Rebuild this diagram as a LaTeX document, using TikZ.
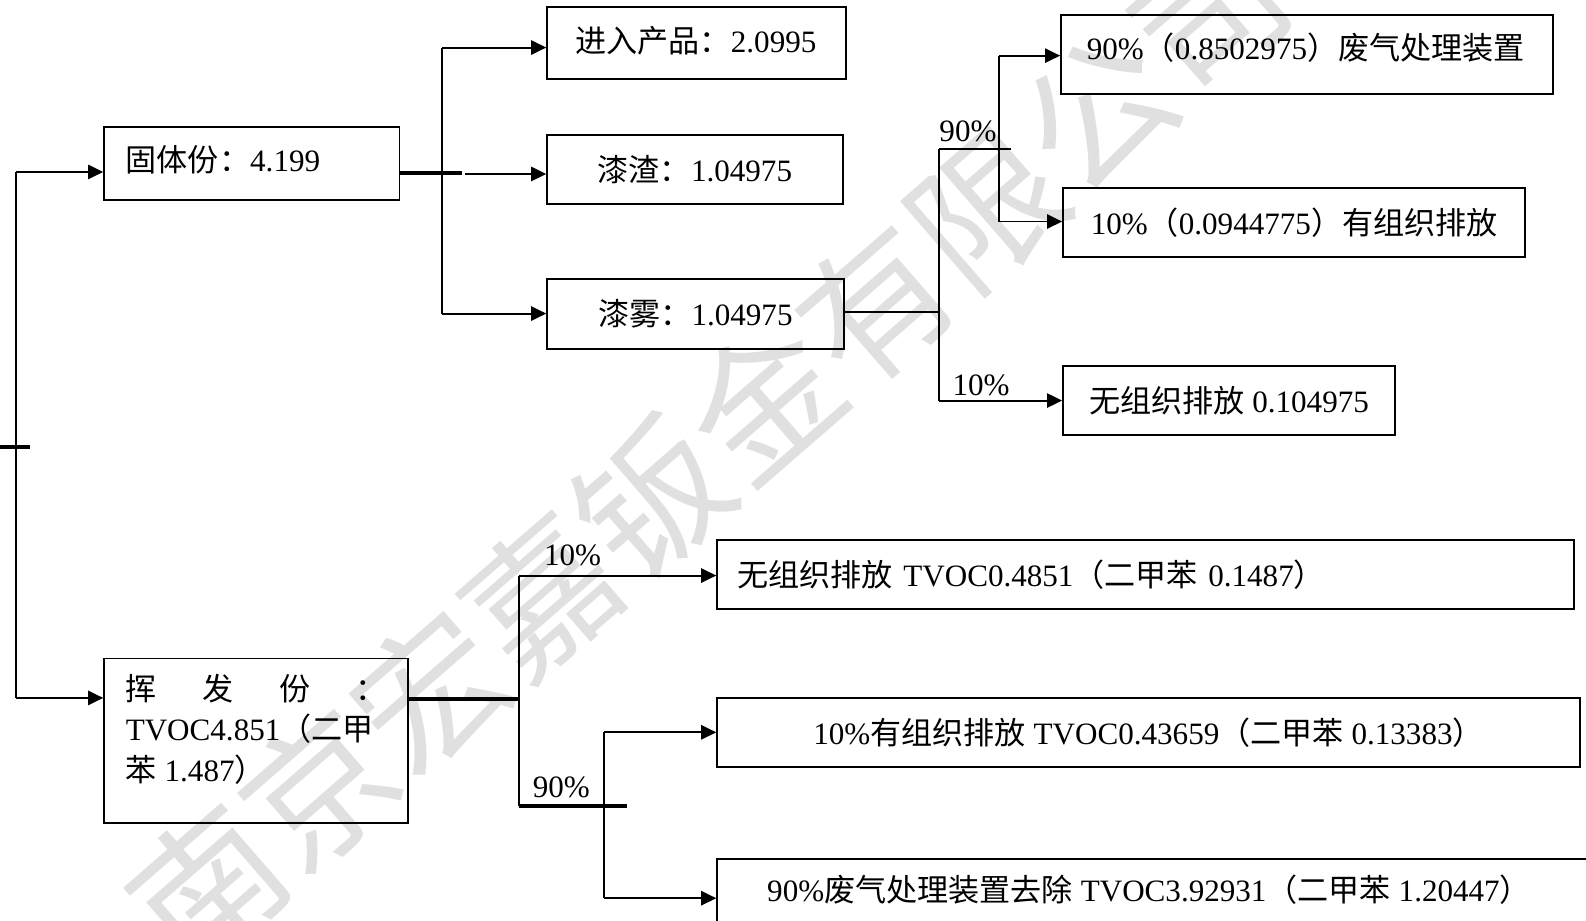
\documentclass[tikz,border=0pt]{standalone}
\usepackage{fontspec}
\setmainfont{Liberation Serif}
\newfontfamily\cjk{Noto Sans CJK SC}
\newcommand\zh[1]{{\cjk #1}}
\usetikzlibrary{arrows.meta}
\begin{document}
\begin{tikzpicture}[x=0.02cm,y=-0.02cm,
  txt/.style={font=\fontsize{17.5}{21}\selectfont},
  box/.style={draw, line width=1.1pt, inner sep=0pt, txt},
  arr/.style={line width=1.1pt, -{Triangle[length=8.5pt,width=8pt]}},
  ln/.style={line width=1.1pt},
  thk/.style={line width=2.4pt},
  pct/.style={txt, inner sep=0pt}]
\useasboundingbox (0,0) rectangle (1568,910);
\clip (0,0) rectangle (1568,910);
% watermark
\node[text=black!12, font=\cjk\fontsize{83}{83}\selectfont, rotate=41, inner sep=0pt] (wm) at (700,445) {南京宏嘉钣金有限公司};
% boxes
\node[box, minimum width=292*0.569pt, minimum height=72*0.569pt] (gt) at (249,162) {};
\node[pct, anchor=west] (gtt) at (124,158) {\zh{固体份：}4.199};
\node[box, minimum width=300*0.569pt, minimum height=163*0.569pt] (hf) at (253,732.5) {};
\node[pct, anchor=north west, align=left, font=\fontsize{17.5}{22.8}\selectfont] (hft) at (124,666)
  {\makebox[147pt][l]{\zh{挥}\hfill\zh{发}\hfill\zh{份}\hfill\zh{：}}\\TVOC4.851\zh{（二甲}\\\zh{苯} 1.487\zh{）}};
\node[box, minimum width=295*0.569pt, minimum height=71*0.569pt] (jr) at (688.5,42.5) {};
\node[pct] (jrt) at (688,40) {\zh{进入产品：}2.0995};
\node[box, minimum width=292*0.569pt, minimum height=69*0.569pt] (qz) at (687,167.5) {\zh{漆渣：}1.04975};
\node[box, minimum width=293*0.569pt, minimum height=69*0.569pt] (qw) at (687.5,310.5) {\zh{漆雾：}1.04975};
\node[box, minimum width=486*0.569pt, minimum height=78*0.569pt] (b1) at (1292,54) {};
\node[pct] (b1t) at (1291,47) {90\%\zh{（}0.8502975\zh{）废气处理装置}};
\node[box, minimum width=457*0.569pt, minimum height=68*0.569pt] (b2) at (1279.5,220) {10\%\zh{（}0.0944775\zh{）有组织排放}};
\node[box, minimum width=328*0.569pt, minimum height=68*0.569pt] (b3) at (1215,396) {\zh{无组织排放} 0.104975};
\node[box, minimum width=847*0.569pt, minimum height=68*0.569pt, text width=807*0.569pt, align=left] (b4) at (1132.5,568) {\zh{无组织排放} TVOC0.4851\zh{（二甲苯} 0.1487\zh{）}};
\node[box, minimum width=853*0.569pt, minimum height=68*0.569pt] (b5) at (1135.5,724) {10\%\zh{有组织排放} TVOC0.43659\zh{（二甲苯} 0.13383\zh{）}};
\node[box, minimum width=891*0.569pt, minimum height=91*0.569pt] (b6) at (1154.5,894.5) {};
\node[pct] (b6t) at (1136,880) {90\%\zh{废气处理装置去除} TVOC3.92931\zh{（二甲苯} 1.20447\zh{）}};
% left bus
\coordinate (L1) at (16,170); \coordinate (L2) at (16,690);
\draw[ln] (L1) -- (L2);
\draw[arr] (L1) -- (L1 -| gt.west);
\draw[arr] (L2) -- (L2 -| hf.west);
\coordinate (tk1) at (0,442); \coordinate (tk2) at (30,442);
\draw[thk] (tk1) -- (tk2);
% solid part
\coordinate (ga) at (457,171);
\draw[thk] (gt.east |- ga) -- (ga);
\coordinate (gb) at (460,172);
\draw[arr] (gb) -- (gb -| qz.west);
\coordinate (gv1) at (437,47); \coordinate (gv2) at (437,310);
\draw[ln] (gv1) -- (gv2);
\draw[arr] (gv1) -- (gv1 -| jr.west);
\draw[arr] (gv2) -- (gv2 -| qw.west);
% paint mist
\coordinate (qa) at (928,308);
\draw[ln] (qw.east |- qa) -- (qa);
\coordinate (qv1) at (928,147); \coordinate (qv2) at (928,396);
\draw[ln] (qv1) -- (qv2);
\coordinate (qh) at (1000,147);
\draw[ln] (qv1) -- (qh);
\coordinate (rv1) at (988,55); \coordinate (rv2) at (988,219);
\draw[ln] (rv1) -- (rv2);
\draw[arr] (rv1) -- (rv1 -| b1.west);
\draw[arr] (rv2) -- (rv2 -| b2.west);
\draw[arr] (qv2) -- (qv2 -| b3.west);
\node[pct] (p90a) at (957,130) {90\%};
\node[pct] (p10a) at (970,381) {10\%};
% volatile part
\coordinate (ha) at (513,691);
\draw[thk] (hf.east |- ha) -- (ha);
\coordinate (hv1) at (513,569); \coordinate (hv2) at (513,797);
\draw[ln] (hv1) -- (hv2);
\draw[arr] (hv1) -- (hv1 -| b4.west);
\coordinate (hh) at (620,797);
\draw[thk] (hv2) -- (hh);
\coordinate (sv1) at (597,724); \coordinate (sv2) at (597,888);
\draw[ln] (sv1) -- (sv2);
\draw[arr] (sv1) -- (sv1 -| b5.west);
\draw[arr] (sv2) -- (sv2 -| b6.west);
\node[pct] (p10b) at (566,549) {10\%};
\node[pct] (p90b) at (555,778) {90\%};
\end{tikzpicture}
\end{document}
